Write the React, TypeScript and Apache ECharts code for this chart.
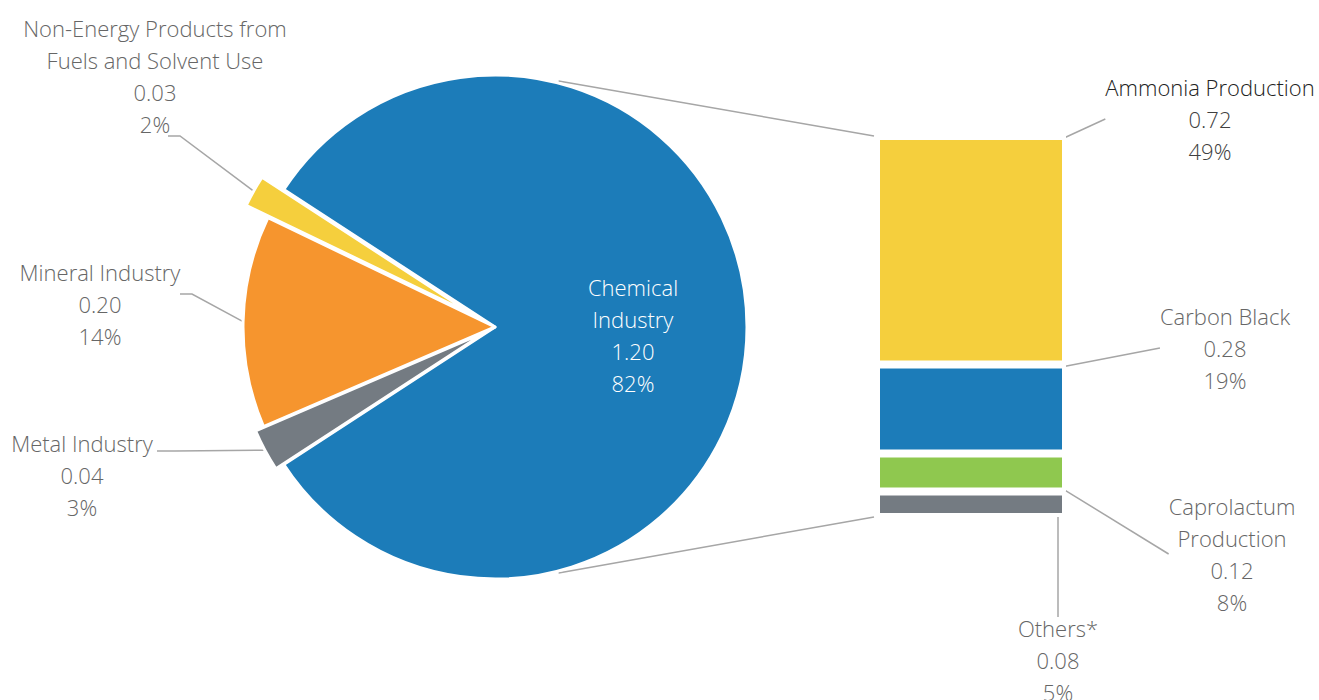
import React, { useEffect, useRef } from 'react';
import * as echarts from 'echarts';

// ---------- data ----------
const pieNames = ['Chemical Industry', 'Metal Industry', 'Mineral Industry', 'Non-Energy Products from Fuels and Solvent Use'];
const pieLabelNames = ['Chemical\nIndustry', 'Metal Industry', 'Mineral Industry', 'Non-Energy Products from\nFuels and Solvent Use'];
const pieValues = [1.20, 0.04, 0.20, 0.03];
const pieColors = ['#1c7cb9', '#747b82', '#f6952e', '#f5cf3d'];

const barNames = ['Others*', 'Caprolactum Production', 'Carbon Black', 'Ammonia Production'];
const barLabelNames = ['Others*', 'Caprolactum\nProduction', 'Carbon Black', 'Ammonia Production'];
const barValues = [0.08, 0.12, 0.28, 0.72];
const barColors = ['#747b82', '#8fc84f', '#1c7cb9', '#f5cf3d'];

// ---------- layout ----------
const W = 1319;
const H = 700;
const PIE_CX = 495;
const PIE_CY = 327;
const PIE_R = 252;
const pieOffsets = [0, 9, 0, 25];
const pieGroups = [[0, 2], [1], [3]];
const pieLabelPos: number[][] = [[633, 287], [82, 443], [100, 272], [155, 28]];
const pieElbows: number[][] = [[0, 0], [175, 451], [192, 294], [180, 136]];
const pieEnds: number[][] = [[0, 0], [157, 451], [180, 294], [168, 136]];

const GRID_LEFT = 876;
const GRID_TOP = 136;
const BAR_W = 190;
const GRID_H = 381;
const barLabelPos: number[][] = [[1058, 628], [1232, 506], [1225, 316], [1210, 87]];
const barElbows: number[][] = [[1059, 603], [1126, 552], [1139, 345], [1083, 117]];
const barEnds: number[][] = [[1059, 603], [1137, 552], [1151, 345], [1095, 117]];

const FONT = "'Open Sans', 'Noto Sans', sans-serif";
const FS = 22;
const LH = 32;
const TEXT = '#666666';
const LINE = '#a6a6a6';

export default function App() {
  const ref = useRef<HTMLDivElement>(null);
  useEffect(() => {
    const chart = echarts.init(ref.current!, null, { renderer: 'svg', width: W, height: H });
    const total = pieValues.reduce((a, b) => a + b, 0);
    const barTotal = barValues.reduce((a, b) => a + b, 0);
    const startAngle = (180 * pieValues[0]) / total;
    const mids: number[] = [];
    let a = startAngle;
    pieValues.forEach((v) => {
      const span = (360 * v) / total;
      mids.push(a - span / 2);
      a -= span;
    });
    const rad = (d: number) => (d * Math.PI) / 180;
    const slicePoint = (i: number) => {
      const r = PIE_R + pieOffsets[i];
      return [PIE_CX + r * Math.cos(rad(mids[i])), PIE_CY - r * Math.sin(rad(mids[i]))];
    };
    const pct = (v: number) => Math.round((v / total) * 100) + '%';

    const pieSeries = pieGroups.map((group) => {
      const off = pieOffsets[group[0]];
      const m = rad(mids[group[0]]);
      return {
        type: 'pie',
        center: [PIE_CX + off * Math.cos(m), PIE_CY - off * Math.sin(m)],
        radius: PIE_R,
        startAngle,
        clockwise: true,
        avoidLabelOverlap: false,
        selectedMode: false,
        silent: true,
        emphasis: { disabled: true },
        data: pieValues.map((v, i) => {
          const vis = group.includes(i);
          const inside = i === 0;
          return {
            name: pieNames[i],
            value: v,
            itemStyle: vis
              ? { color: pieColors[i], borderColor: '#ffffff', borderWidth: 3 }
              : { color: 'rgba(0,0,0,0)', borderWidth: 0 },
            label: vis
              ? { show: true, position: inside ? 'inside' : 'outside', color: inside ? '#ffffff' : TEXT }
              : { show: false },
            labelLine: { show: vis && !inside, lineStyle: { color: LINE, width: 1.5 } },
          };
        }),
        label: {
          formatter: (p: any) => `${pieLabelNames[p.dataIndex]}\n${p.value.toFixed(2)}\n${pct(p.value)}`,
          fontFamily: FONT,
          fontWeight: 300,
          fontSize: FS,
          lineHeight: LH,
          align: 'center',
        },
        labelLayout: (p: any) => {
          const i = p.dataIndex;
          const [x, y] = pieLabelPos[i];
          const res: any = { x, y: y - LH / 2, align: 'center', verticalAlign: 'top' };
          if (i !== 0) res.labelLinePoints = [slicePoint(i), pieElbows[i], pieEnds[i]];
          return res;
        },
      };
    });

    const barSeries = barValues.map((v, i) => ({
      type: 'bar',
      stack: 'total',
      name: barNames[i],
      data: [v],
      barWidth: BAR_W,
      silent: true,
      itemStyle: { color: barColors[i], borderColor: '#ffffff', borderWidth: 4 },
      label: {
        show: true,
        formatter: () => {
          const nm = barLabelNames[i].split('\n').map((s) => `{n|${s}}`).join('\n');
          return `${nm}\n{v|${v.toFixed(2)}}\n{v|${pct(v)}}`;
        },
        rich: {
          n: { fontFamily: FONT, fontWeight: 300, fontSize: FS, lineHeight: LH, color: i === 3 ? '#222222' : TEXT, align: 'center' },
          v: { fontFamily: FONT, fontWeight: 300, fontSize: FS, lineHeight: LH, color: i === 3 ? '#404040' : TEXT, align: 'center' },
        },
      },
      labelLine: { show: true, lineStyle: { color: LINE, width: 1.5 } },
      labelLayout: (p: any) => {
        const r = p.rect;
        const start = [r.x + r.width + 1, r.y + r.height / 2];
        const [x, y] = barLabelPos[i];
        return {
          x,
          y: y - LH / 2,
          align: 'center',
          verticalAlign: 'top',
          labelLinePoints: [start, barElbows[i], barEnds[i]],
        };
      },
    }));

    chart.setOption({
      animation: false,
      grid: { left: GRID_LEFT, top: GRID_TOP, width: BAR_W, height: GRID_H },
      xAxis: { type: 'category', data: ['bar'], show: false },
      yAxis: { type: 'value', min: 0, max: barTotal, show: false },
      series: [...pieSeries, ...barSeries],
    });

    const yTop = chart.convertToPixel({ yAxisIndex: 0 }, barTotal) as number;
    const yBot = chart.convertToPixel({ yAxisIndex: 0 }, 0) as number;
    const xc = chart.convertToPixel({ xAxisIndex: 0 }, 'bar') as number;
    const xL = xc - BAR_W / 2 - 2;
    const cAng = 75.5;
    const cR = PIE_R + 2;
    chart.setOption({
      graphic: [
        {
          type: 'line',
          silent: true,
          shape: { x1: PIE_CX + cR * Math.cos(rad(cAng)), y1: PIE_CY - cR * Math.sin(rad(cAng)), x2: xL, y2: yTop },
          style: { stroke: LINE, lineWidth: 1.5 },
        },
        {
          type: 'line',
          silent: true,
          shape: { x1: PIE_CX + cR * Math.cos(rad(-cAng)), y1: PIE_CY - cR * Math.sin(rad(-cAng)), x2: xL, y2: yBot },
          style: { stroke: LINE, lineWidth: 1.5 },
        },
      ],
    });

    return () => chart.dispose();
  }, []);
  return <div ref={ref} style={{ position: 'absolute', left: 0, top: 0, width: W, height: H }} />;
}
